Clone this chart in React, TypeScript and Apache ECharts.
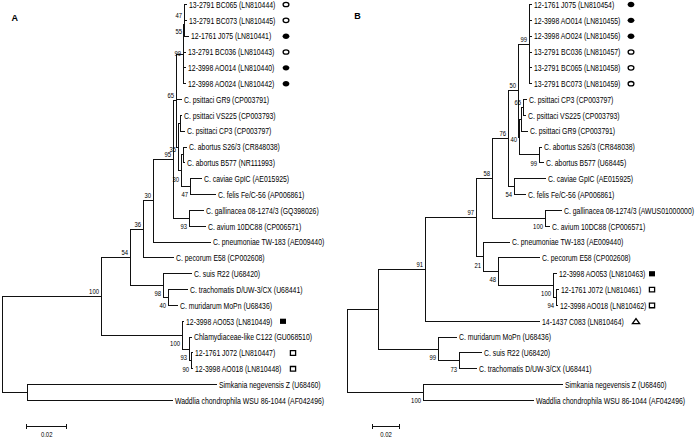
import React, { useEffect, useRef } from "react";
import * as echarts from "echarts";

// [child, parent, branch length (substitutions/site), bootstrap support]
type Edge = [string, string, number, number | null];

const edgesA: Edge[] = [
  ["A100", "rootA", 0.0495, 100],
  ["A54", "A100", 0.0145, 54],
  ["A36", "A54", 0.0065, 36],
  ["A30", "A36", 0.005, 30],
  ["A95", "A30", 0.01, 95],
  ["A65", "A95", 0.00175, 65],
  ["A99", "A65", 0.00325, 99],
  ["A55", "A99", 0.0005, 55],
  ["A47", "A55", 0.00025, 47],
  ["13-2791 BC065 (LN810444)", "A47", 0.00075, null],
  ["13-2791 BC073 (LN810445)", "A47", 0.00075, null],
  ["12-1761 J075 (LN810441)", "A55", 0.002, null],
  ["13-2791 BC036 (LN810443)", "A99", 0.001, null],
  ["12-3998 AO014 (LN810440)", "A99", 0.001, null],
  ["12-3998 AO024 (LN810442)", "A99", 0.001, null],
  ["C. psittaci GR9 (CP003791)", "A65", 0.00225, null],
  ["A35", "A65", 0.001, 35],
  ["AVC", "A35", 0.001, null],
  ["C. psittaci VS225 (CP003793)", "AVC", 0.00025, null],
  ["C. psittaci CP3 (CP003797)", "AVC", 0.00175, null],
  ["A30b", "A35", 0.00125, 30],
  ["AAB", "A30b", 0.001, null],
  ["C. abortus S26/3 (CR848038)", "AAB", 0.0015, null],
  ["C. abortus B577 (NR111993)", "AAB", 0.00075, null],
  ["A47b", "A30b", 0.0045, 47],
  ["C. caviae GpIC (AE015925)", "A47b", 0.0055, null],
  ["C. felis Fe/C-56 (AP006861)", "A47b", 0.0125, null],
  ["A93", "A95", 0.0085, 93],
  ["C. gallinacea 08-1274/3 (GQ398026)", "A93", 0.0065, null],
  ["C. avium 10DC88 (CP006571)", "A93", 0.0075, null],
  ["C. pneumoniae TW-183 (AE009440)", "A30", 0.0285, null],
  ["C. pecorum E58 (CP002608)", "A36", 0.015, null],
  ["A98", "A54", 0.0165, 98],
  ["C. suis R22 (U68420)", "A98", 0.0145, null],
  ["A40", "A98", 0.0025, 40],
  ["C. trachomatis D/UW-3/CX (U68441)", "A40", 0.01, null],
  ["C. muridarum MoPn (U68436)", "A40", 0.0045, null],
  ["A100b", "A100", 0.041, 100],
  ["12-3998 AO053 (LN810449)", "A100b", 0.0005, null],
  ["A93b", "A100b", 0.0035, 93],
  ["Chlamydiaceae-like C122 (GU068510)", "A93b", 0.001, null],
  ["A90", "A93b", 0.00075, 90],
  ["12-1761 J072 (LN810447)", "A90", 0.00075, null],
  ["12-3998 AO018 (LN810448)", "A90", 0.00075, null],
  ["AWS", "rootA", 0.0125, null],
  ["Simkania negevensis Z (U68460)", "AWS", 0.095, null],
  ["Waddlia chondrophila WSU 86-1044 (AF042496)", "AWS", 0.073, null],
];

const markersA: [string, string][] = [
  ["13-2791 BC065 (LN810444)", "openCircle"],
  ["13-2791 BC073 (LN810445)", "openCircle"],
  ["12-1761 J075 (LN810441)", "filledCircle"],
  ["13-2791 BC036 (LN810443)", "openCircle"],
  ["12-3998 AO014 (LN810440)", "filledCircle"],
  ["12-3998 AO024 (LN810442)", "filledCircle"],
  ["12-3998 AO053 (LN810449)", "filledSquare"],
  ["12-1761 J072 (LN810447)", "openSquare"],
  ["12-3998 AO018 (LN810448)", "openSquare"],
];

const edgesB: Edge[] = [
  ["BU", "rootB", 0.02325, null],
  ["B91", "BU", 0.03525, 91],
  ["B97", "B91", 0.03825, 97],
  ["B58", "B97", 0.012, 58],
  ["B76", "B58", 0.012, 76],
  ["B50", "B76", 0.0075, 50],
  ["B99i", "B50", 0.00825, 99],
  ["12-1761 J075 (LN810454)", "B99i", 0.0015, null],
  ["12-3998 AO014 (LN810455)", "B99i", 0.0015, null],
  ["12-3998 AO024 (LN810456)", "B99i", 0.0015, null],
  ["13-2791 BC036 (LN810457)", "B99i", 0.0015, null],
  ["13-2791 BC065 (LN810458)", "B99i", 0.0015, null],
  ["13-2791 BC073 (LN810459)", "B99i", 0.0015, null],
  ["B40", "B50", 0.00075, 40],
  ["BPs", "B40", 0.0015, null],
  ["B65", "BPs", 0.0015, 65],
  ["C. psittaci CP3 (CP003797)", "B65", 0.00225, null],
  ["C. psittaci VS225 (CP003793)", "B65", 0.0015, null],
  ["C. psittaci GR9 (CP003791)", "BPs", 0.0045, null],
  ["B99a", "B40", 0.015, 99],
  ["C. abortus S26/3 (CR848038)", "B99a", 0.0015, null],
  ["C. abortus B577 (U68445)", "B99a", 0.003, null],
  ["B54", "B76", 0.0045, 54],
  ["C. caviae GpIC (AE015925)", "B54", 0.02325, null],
  ["C. felis Fe/C-56 (AP006861)", "B54", 0.00825, null],
  ["B100g", "B58", 0.03975, 100],
  ["C. gallinacea 08-1274/3 (AWUS01000000)", "B100g", 0.012, null],
  ["C. avium 10DC88 (CP006571)", "B100g", 0.003, null],
  ["B21", "B97", 0.00525, 21],
  ["C. pneumoniae TW-183 (AE009440)", "B21", 0.0195, null],
  ["B48", "B21", 0.01125, 48],
  ["C. pecorum E58 (CP002608)", "B48", 0.03075, null],
  ["B100c", "B48", 0.04125, 100],
  ["12-3998 AO053 (LN810463)", "B100c", 0.00225, null],
  ["B94", "B100c", 0.00225, 94],
  ["12-1761 J072 (LN810461)", "B94", 0.001875, null],
  ["12-3998 AO018 (LN810462)", "B94", 0.001125, null],
  ["14-1437 C083 (LN810464)", "B91", 0.0855, null],
  ["B99m", "BU", 0.045, 99],
  ["C. muridarum MoPn (U68436)", "B99m", 0.0135, null],
  ["B73", "B99m", 0.01575, 73],
  ["C. suis R22 (U68420)", "B73", 0.0165, null],
  ["C. trachomatis D/UW-3/CX (U68441)", "B73", 0.01275, null],
  ["BWS", "rootB", 0.057, 100],
  ["Simkania negevensis Z (U68460)", "BWS", 0.10425, null],
  ["Waddlia chondrophila WSU 86-1044 (AF042496)", "BWS", 0.0825, null],
];

const markersB: [string, string][] = [
  ["12-1761 J075 (LN810454)", "filledCircle"],
  ["12-3998 AO014 (LN810455)", "filledCircle"],
  ["12-3998 AO024 (LN810456)", "filledCircle"],
  ["13-2791 BC036 (LN810457)", "openCircle"],
  ["13-2791 BC065 (LN810458)", "openCircle"],
  ["13-2791 BC073 (LN810459)", "openCircle"],
  ["12-3998 AO053 (LN810463)", "filledSquare"],
  ["12-1761 J072 (LN810461)", "openSquare"],
  ["12-3998 AO018 (LN810462)", "openSquare"],
  ["14-1437 C083 (LN810464)", "openTriangle"],
];

const panelLetters = ["A", "B"];
const scaleBarLength = 0.02;
const scaleBarLabel = "0.02";

// ---------- layout / style ----------
const FONT = "'Liberation Sans', Arial, sans-serif";
const INK = "#111";
const TEXT = "#000";
const GRID_W = 340;
const GRID_TOP = 4.5;
const GRID_H = 396;
const SCALE_Y = 426.5;

const PANELS = [
  {
    edges: edgesA, root: "rootA", markers: markersA, letter: panelLetters[0],
    left: 2, pxPerUnit: 2000, letterX: 11.5, letterY: 17.5, scaleBarPx: 26.7,
    markerCol: { filledCircle: 286, openCircle: 286, filledSquare: 283, openSquare: 293, openTriangle: 286 } as Record<string, number>,
    labelDy: { A47: 2.6, A55: 6.7, A99: -1, A35: 2 } as Record<string, number>,
  },
  {
    edges: edgesB, root: "rootB", markers: markersB, letter: panelLetters[1],
    left: 347, pxPerUnit: 4000 / 3, letterX: 354.3, letterY: 15.8, scaleBarPx: 372.7,
    markerCol: { filledCircle: 631, openCircle: 631, filledSquare: 652, openSquare: 652, openTriangle: 636 } as Record<string, number>,
    labelDy: { B40: 2 } as Record<string, number>,
  },
];

function layoutTree(edges: Edge[], root: string) {
  const children: Record<string, string[]> = {};
  const len: Record<string, number> = {};
  for (const [c, p, l] of edges) {
    (children[p] = children[p] || []).push(c);
    len[c] = l;
  }
  const x: Record<string, number> = {};
  const y: Record<string, number> = {};
  const leaves: string[] = [];
  let row = 0;
  const visit = (id: string, depth: number) => {
    x[id] = depth;
    const ch = children[id];
    if (!ch) {
      y[id] = row++;
      leaves.push(id);
      return;
    }
    ch.forEach((c) => visit(c, depth + len[c]));
    y[id] = (y[ch[0]] + y[ch[ch.length - 1]]) / 2;
  };
  visit(root, 0);
  const segments: number[][] = [];
  for (const [c, p] of edges) segments.push([x[p], y[c], x[c], y[c]]);
  for (const id of Object.keys(children)) {
    const ch = children[id];
    segments.push([x[id], y[ch[0]], x[id], y[ch[ch.length - 1]]]);
  }
  const supports: { id: string; x: number; y: number; text: string; first: boolean }[] = [];
  for (const [c, p, , s] of edges) {
    if (s !== null && s !== undefined) {
      supports.push({ id: c, x: x[c], y: y[c], text: String(s), first: children[p][0] === c });
    }
  }
  return { x, y, leaves, segments, supports, rows: row };
}

const snap = (v: number) => Math.round(v - 0.5) + 0.5;

function panelSeries(i: number) {
  const P = PANELS[i];
  const T = layoutTree(P.edges, P.root);
  const base = { type: "custom", xAxisIndex: i, yAxisIndex: i, clip: false, silent: true };
  const series: any[] = [];

  series.push({
    ...base,
    data: T.segments,
    renderItem: (_p: any, api: any) => {
      const a = api.coord([api.value(0), api.value(1)]);
      const b = api.coord([api.value(2), api.value(3)]);
      return {
        type: "line",
        shape: { x1: snap(a[0]), y1: snap(a[1]), x2: snap(b[0]), y2: snap(b[1]) },
        style: { stroke: INK, lineWidth: 1, lineCap: "square" },
      };
    },
  });

  const leafNames = T.leaves;
  series.push({
    ...base,
    data: leafNames.map((n) => [T.x[n], T.y[n]]),
    renderItem: (p: any, api: any) => {
      const a = api.coord([api.value(0), api.value(1)]);
      return {
        type: "text",
        x: snap(a[0]) + 2.5,
        y: a[1] + 0.5,
        scaleX: 0.81,
        style: {
          text: leafNames[p.dataIndex], fill: TEXT, fontSize: 8.5, fontFamily: FONT,
          align: "left", verticalAlign: "middle",
        },
      };
    },
  });

  const sups = T.supports;
  series.push({
    ...base,
    data: sups.map((s) => [s.x, s.y]),
    renderItem: (p: any, api: any) => {
      const s = sups[p.dataIndex];
      const a = api.coord([api.value(0), api.value(1)]);
      const dy = P.labelDy[s.id] !== undefined ? P.labelDy[s.id] : s.first ? -5 : 8;
      return {
        type: "text",
        x: snap(a[0]) - 2.5,
        y: a[1] + dy,
        scaleX: 0.85,
        style: {
          text: s.text, fill: TEXT, fontSize: 7, fontFamily: FONT,
          align: "right", verticalAlign: "middle",
        },
      };
    },
  });

  const mk = P.markers;
  series.push({
    ...base,
    data: mk.map(([n]) => [T.x[n], T.y[n]]),
    renderItem: (p: any, api: any) => {
      const kind = mk[p.dataIndex][1];
      const cy = api.coord([api.value(0), api.value(1)])[1];
      const cx = P.markerCol[kind];
      const lw = 1.3;
      if (kind === "filledCircle")
        return { type: "ellipse", shape: { cx, cy, rx: 3.4, ry: 2.7 }, style: { fill: "#000" } };
      if (kind === "openCircle")
        return { type: "ellipse", shape: { cx, cy, rx: 2.9, ry: 2.2 }, style: { fill: "#fff", stroke: "#000", lineWidth: lw } };
      if (kind === "filledSquare")
        return { type: "rect", shape: { x: cx - 3, y: cy - 2.6, width: 6, height: 5.2 }, style: { fill: "#000" } };
      if (kind === "openSquare")
        return { type: "rect", shape: { x: cx - 2.6, y: cy - 2.3, width: 5.2, height: 4.6 }, style: { fill: "#fff", stroke: "#000", lineWidth: lw } };
      return {
        type: "polygon",
        shape: { points: [[cx - 3.6, cy + 2.4], [cx + 3.6, cy + 2.4], [cx, cy - 2.6]] },
        style: { fill: "#fff", stroke: "#000", lineWidth: lw, lineJoin: "miter" },
      };
    },
  });

  series.push({
    ...base,
    data: [[scaleBarLength, 0]],
    renderItem: (_p: any, api: any) => {
      const len = api.coord([api.value(0), 0])[0] - api.coord([0, 0])[0];
      const x0 = P.scaleBarPx;
      const x1 = x0 + len;
      const st = { stroke: INK, lineWidth: 1 };
      return {
        type: "group",
        children: [
          { type: "line", shape: { x1: x0, y1: SCALE_Y, x2: x1, y2: SCALE_Y }, style: st },
          { type: "line", shape: { x1: snap(x0), y1: SCALE_Y - 2.5, x2: snap(x0), y2: SCALE_Y + 2.5 }, style: st },
          { type: "line", shape: { x1: snap(x1), y1: SCALE_Y - 2.5, x2: snap(x1), y2: SCALE_Y + 2.5 }, style: st },
          {
            type: "text", x: (x0 + x1) / 2, y: 434.5, scaleX: 0.85,
            style: { text: scaleBarLabel, fill: TEXT, fontSize: 7, fontFamily: FONT, align: "center", verticalAlign: "middle" },
          },
        ],
      };
    },
  });

  return { series, rows: T.rows };
}

export default function App() {
  const ref = useRef<HTMLDivElement>(null);
  useEffect(() => {
    if (!ref.current) return;
    const chart = echarts.init(ref.current, undefined, { renderer: "svg" });
    const built = PANELS.map((_, i) => panelSeries(i));
    const option: any = {
      animation: false,
      backgroundColor: "#fff",
      grid: PANELS.map((P) => ({ left: P.left, top: GRID_TOP, width: GRID_W, height: GRID_H })),
      xAxis: PANELS.map((P, i) => ({
        type: "value", gridIndex: i, min: 0, max: GRID_W / P.pxPerUnit, show: false,
      })),
      yAxis: PANELS.map((_, i) => ({
        type: "value", gridIndex: i, min: 0, max: built[i].rows - 1, inverse: true, show: false,
      })),
      graphic: PANELS.map((P) => ({
        type: "text", x: P.letterX, y: P.letterY,
        style: { text: P.letter, fill: TEXT, fontSize: 9, fontWeight: "bold", fontFamily: FONT, align: "left", verticalAlign: "middle" },
      })),
      series: built.flatMap((b) => b.series),
    };
    chart.setOption(option);
    return () => chart.dispose();
  }, []);
  return (
    <div
      ref={ref}
      style={{ position: "fixed", left: 0, top: 0, width: 696, height: 437, background: "#fff" }}
    />
  );
}
